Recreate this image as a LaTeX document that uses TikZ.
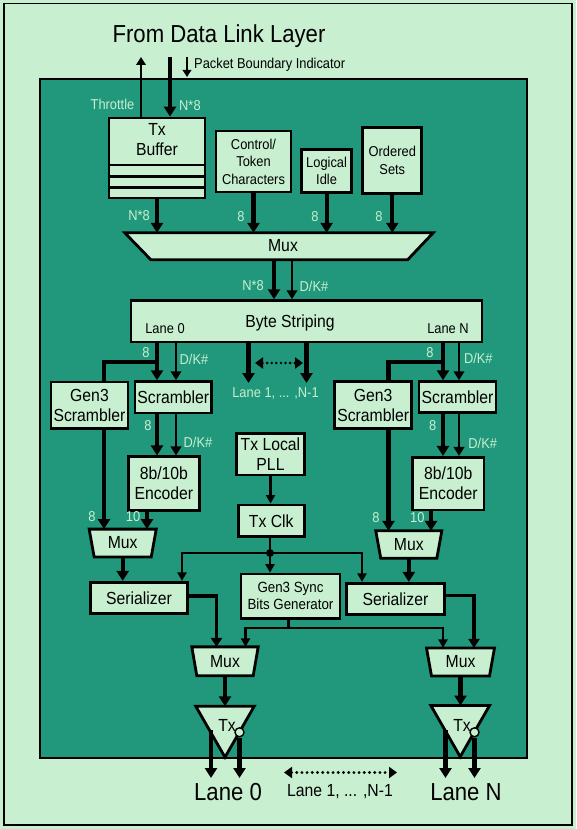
\documentclass[tikz,border=0pt]{standalone}
\usepackage{fontspec}
\setmainfont{Liberation Sans}[FakeStretch=0.9]
\usetikzlibrary{arrows.meta}
\definecolor{bgl}{RGB}{200,239,208}
\definecolor{tealc}{RGB}{33,152,123}
\newcommand\myfs{\fontsize{14.3pt}{17.4pt}\selectfont}
\newcommand\myfm{\fontsize{17.5pt}{20pt}\selectfont}
\newcommand\myfl{\fontsize{24.6pt}{28pt}\selectfont}
\newcommand\myfg{\fontsize{14.8pt}{16.7pt}\selectfont}
\begin{document}
\begin{tikzpicture}[x=1pt,y=-1pt,
  box/.style={draw=black, fill=bgl, line width=2.8pt, inner sep=0pt, align=center, font=\myfm},
  shp/.style={draw=black, fill=bgl, line width=2.8pt, line join=miter},
  holder/.style={inner sep=0pt, draw=none},
  txt/.style={inner sep=0pt, align=center, font=\myfm},
  lbl/.style={inner sep=0pt, font=\myfs, text=bgl},
  bigarr/.style={line width=4.2pt, -{Triangle[length=10pt,width=12pt]}},
  bigline/.style={line width=4.2pt},
  medarr/.style={line width=2.8pt, -{Triangle[length=9pt,width=10.5pt]}},
  thinarr/.style={line width=2.6pt, -{Triangle[length=8pt,width=9.5pt]}},
  clkline/.style={line width=2.4pt},
  clkarr/.style={line width=2.4pt, -{Triangle[length=8.5pt,width=9pt]}},
  seroarr/.style={line width=3.4pt, -{Triangle[length=9pt,width=11pt]}},
  dotarr/.style={line width=3.2pt, dash pattern=on 0pt off 5.2pt, line cap=round,
     {Triangle[length=8pt,width=11pt]}-{Triangle[length=8pt,width=11pt]}}
]
% canvas
\fill[bgl] (0,0) rectangle (576,829);
\useasboundingbox (0,0) rectangle (576,829);
\draw[line width=1.5pt] (4,3.5) rectangle (572,825);
\draw[line width=2pt, fill=tealc] (39.5,79) rectangle (527,758);

% title and top inputs
\node[inner sep=0pt, font=\myfl] (title) at (219,36) {From Data Link Layer};
\node[box, minimum width=96, minimum height=80] (txbuf) at (157,158) {};
\draw[line width=2.8pt] (109,165) -- (205,165);
\draw[line width=2.8pt] (109,176.7) -- (205,176.7);
\draw[line width=2.8pt] (109,187.7) -- (205,187.7);
\node[txt] (txbuft) at (157,140) {Tx\\Buffer};

\coordinate (thrtop) at (141,57);
\coordinate (dintop) at (170,57);
\coordinate (pbtop) at (187,57);
\coordinate (pbbot) at (187,77);
\draw[thinarr] (txbuf.north -| thrtop) -- (thrtop);
\draw[bigarr] (dintop) -- (dintop |- txbuf.north);
\draw[line width=2pt, -{Triangle[length=7pt,width=8.5pt]}] (pbtop) -- (pbbot);
\node[inner sep=0pt, font=\myfs, anchor=west] (pbi) at (194,65) {Packet Boundary Indicator};
\node[lbl, anchor=east] (thrlbl) at (134.5,104) {Throttle};
\node[lbl, anchor=west] (inlbl) at (179,106) {N*8};

% sources
\node[box, font=\myfs, minimum width=75, minimum height=61] (ctrl) at (253.5,161.5) {Control/\\Token\\Characters};
\node[box, font=\myfs, minimum width=50, minimum height=43] (idle) at (326.6,170.8) {Logical\\Idle};
\node[box, font=\myfs, minimum width=59, minimum height=66] (osets) at (392.3,160.3) {Ordered\\Sets};

% mux 1
\node[holder, minimum width=308, minimum height=26.5] (mux1) at (279,246.25) {};
\draw[shp] (mux1.north west) -- (mux1.north east) -- ([xshift=-25.5pt]mux1.south east) -- ([xshift=26pt]mux1.south west) -- cycle;
\node[txt] (mux1t) at (283,246) {Mux};
\draw[bigarr] (txbuf.south) -- (txbuf.south |- mux1.north);
\draw[bigarr] (ctrl.south) -- (ctrl.south |- mux1.north);
\draw[bigarr] (idle.south) -- (idle.south |- mux1.north);
\draw[bigarr] (osets.south) -- (osets.south |- mux1.north);
\node[lbl] (l1) at (139,216) {N*8};
\node[lbl] (l2) at (241,217) {8};
\node[lbl] (l3) at (315,217) {8};
\node[lbl] (l4) at (379,217) {8};

% byte striping
\node[box, minimum width=351, minimum height=41.3] (bs) at (306.5,321.3) {};
\node[txt] (bst) at (290,323) {Byte Striping};
\node[inner sep=0pt, font=\myfs] (bsl0) at (165,329) {Lane 0};
\node[inner sep=0pt, font=\myfs] (bsln) at (448,329) {Lane N};
\coordinate (m1a) at (274,0);
\coordinate (m1b) at (292,0);
\draw[bigarr] (mux1.south -| m1a) -- (bs.north -| m1a);
\draw[medarr] (mux1.south -| m1b) -- (bs.north -| m1b);
\node[lbl] (l5) at (253,286) {N*8};
\node[lbl] (l6) at (314,286) {D/K\#};

% lane blocks
\node[box, minimum width=77, minimum height=46.3] (gen3L) at (89.5,405.2) {Gen3\\Scrambler};
\node[box, minimum width=76.7, minimum height=31.3] (scrL) at (173.3,397.3) {Scrambler};
\node[box, minimum width=71.2, minimum height=53.3] (encL) at (163.9,483.5) {8b/10b\\Encoder};
\node[box, minimum width=77, minimum height=46.6] (gen3R) at (373.2,405) {Gen3\\Scrambler};
\node[box, minimum width=77, minimum height=31] (scrR) at (457.5,397.2) {Scrambler};
\node[box, minimum width=71.3, minimum height=52.7] (encR) at (448.3,483.7) {8b/10b\\Encoder};

\coordinate (L8) at (157,0);
\coordinate (Ldk) at (176,0);
\coordinate (Lg) at (104,0);
\coordinate (Le) at (147,0);
\coordinate (R8) at (443,0);
\coordinate (Rdk) at (459,0);
\coordinate (Rg) at (388.5,0);
\coordinate (Re) at (431,0);
\coordinate (brL) at (157,362);
\coordinate (brR) at (443,362);

\draw[bigline] (brL) -| (gen3L.north -| Lg);
\draw[bigarr] (bs.south -| L8) -- (scrL.north -| L8);
\draw[medarr] (bs.south -| Ldk) -- (scrL.north -| Ldk);
\draw[bigline] (brR) -| (gen3R.north -| Rg);
\draw[bigarr] (bs.south -| R8) -- (scrR.north -| R8);
\draw[medarr] (bs.south -| Rdk) -- (scrR.north -| Rdk);
\node[lbl] (l7) at (146,353) {8};
\node[lbl] (l8) at (194,359) {D/K\#};
\node[lbl] (l9) at (430,353) {8};
\node[lbl] (l10) at (478.3,358.3) {D/K\#};

% middle lanes
\coordinate (c1e) at (248.5,383);
\coordinate (c2e) at (306.5,383);
\draw[bigarr] (bs.south -| c1e) -- (c1e);
\draw[bigarr] (bs.south -| c2e) -- (c2e);
\coordinate (d1) at (255,363);
\coordinate (d2) at (303,363);
\draw[dotarr, line width=2.8pt, dash pattern=on 0pt off 4.6pt] (d1) -- (d2);
\node[lbl] (midl) at (275.5,393) {Lane 1, ... ,N-1};

% scrambler to encoder
\draw[bigarr] (scrL.south -| L8) -- (encL.north -| L8);
\draw[medarr] (scrL.south -| Ldk) -- (encL.north -| Ldk);
\draw[bigarr] (scrR.south -| R8) -- (encR.north -| R8);
\draw[medarr] (scrR.south -| Rdk) -- (encR.north -| Rdk);
\node[lbl] (l11) at (148,426) {8};
\node[lbl] (l12) at (198,442) {D/K\#};
\node[lbl] (l13) at (432.7,425.7) {8};
\node[lbl] (l14) at (482.7,443.3) {D/K\#};

% lane muxes
\node[holder, minimum width=66.7, minimum height=27.4] (muxL) at (122.7,543) {};
\draw[shp] (muxL.north west) -- (muxL.north east) -- ([xshift=-5pt]muxL.south east) -- ([xshift=5pt]muxL.south west) -- cycle;
\node[txt] (muxLt) at (muxL) {Mux};
\node[holder, minimum width=65.7, minimum height=27] (muxR) at (408.8,544.5) {};
\draw[shp] (muxR.north west) -- (muxR.north east) -- ([xshift=-5pt]muxR.south east) -- ([xshift=5pt]muxR.south west) -- cycle;
\node[txt] (muxRt) at (muxR) {Mux};

\draw[bigarr] (gen3L.south -| Lg) -- (muxL.north -| Lg);
\draw[bigarr] (encL.south -| Le) -- (muxL.north -| Le);
\draw[bigarr] (gen3R.south -| Rg) -- (muxR.north -| Rg);
\draw[bigarr] (encR.south -| Re) -- (muxR.north -| Re);
\node[lbl] (l15) at (92,517) {8};
\node[lbl] (l16) at (133,517) {10};
\node[lbl] (l17) at (376,517.7) {8};
\node[lbl] (l18) at (417.3,517.7) {10};

% clock
\node[box, minimum width=67.6, minimum height=41.7] (pll) at (270.5,454.2) {Tx Local\\PLL};
\node[box, minimum width=66, minimum height=31.7] (clk) at (271.3,520.8) {Tx Clk};
\draw[clkarr] (pll.south) -- (pll.south |- clk.north);

\node[box, minimum width=96.6, minimum height=31.4] (serL) at (139,598) {Serializer};
\node[box, minimum width=97.6, minimum height=31] (serR) at (395.5,598.8) {Serializer};
\node[box, font=\myfg, minimum width=99, minimum height=44.3] (sync) at (290.5,596.2) {Gen3 Sync\\Bits Generator};

\coordinate (jn) at (270,553);
\coordinate (CsL) at (182,0);
\coordinate (CsR) at (362,0);
\draw[clkline] (clk.south -| jn) -- (jn);
\draw[clkarr] (jn) -- (jn |- sync.north);
\draw[clkarr] (jn) -| (serL.north -| CsL);
\draw[clkarr] (jn) -| (serR.north -| CsR);
\fill (jn) circle (4pt);

\draw[bigarr] (muxL.south) -- (muxL.south |- serL.north);
\draw[bigarr] (muxR.south) -- (muxR.south |- serR.north);

% output muxes
\node[holder, minimum width=66, minimum height=28.5] (mux2L) at (225,661.3) {};
\draw[shp] (mux2L.north west) -- (mux2L.north east) -- ([xshift=-5pt]mux2L.south east) -- ([xshift=5pt]mux2L.south west) -- cycle;
\node[txt] (mux2Lt) at (mux2L) {Mux};
\node[holder, minimum width=67.6, minimum height=27.7] (mux2R) at (460.5,662) {};
\draw[shp] (mux2R.north west) -- (mux2R.north east) -- ([xshift=-5pt]mux2R.south east) -- ([xshift=5pt]mux2R.south west) -- cycle;
\node[txt] (mux2Rt) at (mux2R) {Mux};

\coordinate (M2a) at (216.5,0);
\coordinate (M2b) at (245.5,0);
\coordinate (M2c) at (443,0);
\coordinate (M2d) at (474,0);
\coordinate (sj) at (288.5,628);
\draw[seroarr] ([yshift=2pt]serL.east) -| (mux2L.north -| M2a);
\draw[seroarr] ([yshift=3.5pt]serR.east) -| (mux2R.north -| M2d);
\draw[clkline] (sync.south -| sj) -- (sj);
\draw[clkarr] (sj) -| (mux2L.north -| M2b);
\draw[clkarr] (sj) -| (mux2R.north -| M2c);

% transmitters
\node[holder, minimum width=58, minimum height=50.5] (txL) at (225,731.75) {};
\draw[shp] (txL.north west) -- (txL.north east) -- (txL.south) -- cycle;
\node[inner sep=0pt, font=\myfm] (txLt) at (227,725) {Tx};
\node[holder, minimum width=58.3, minimum height=50.8] (txR) at (460.2,731.1) {};
\draw[shp] (txR.north west) -- (txR.north east) -- (txR.south) -- cycle;
\node[inner sep=0pt, font=\myfm] (txRt) at (462,725) {Tx};

\draw[bigarr] (mux2L.south) -- (mux2L.south |- txL.north);
\draw[bigarr] (mux2R.south) -- (mux2R.south |- txR.north);

\node[circle, draw, fill=bgl, line width=1.4pt, inner sep=0pt, minimum size=9pt] (cL) at (239.5,732.3) {};
\node[circle, draw, fill=bgl, line width=1.4pt, inner sep=0pt, minimum size=9pt] (cR) at (474.5,732.3) {};

\coordinate (outY) at (0,778);
\coordinate (oL1) at (211,730);
\coordinate (oR1) at (445.5,730);
\draw[bigarr] (oL1) -- (oL1 |- outY);
\draw[bigarr] (cL.south) -- (cL.south |- outY);
\draw[bigarr] (oR1) -- (oR1 |- outY);
\draw[bigarr] (cR.south) -- (cR.south |- outY);

% bottom labels
\node[inner sep=0pt, font=\myfl] (lane0) at (228,792) {Lane 0};
\node[inner sep=0pt, font=\myfl] (laneN) at (466,792) {Lane N};
\node[inner sep=0pt, font=\myfm] (lanem) at (340,792) {Lane 1, ... ,N-1};
\coordinate (bd1) at (284,772.5);
\coordinate (bd2) at (397,772.5);
\draw[dotarr] (bd1) -- (bd2);
\end{tikzpicture}
\end{document}
